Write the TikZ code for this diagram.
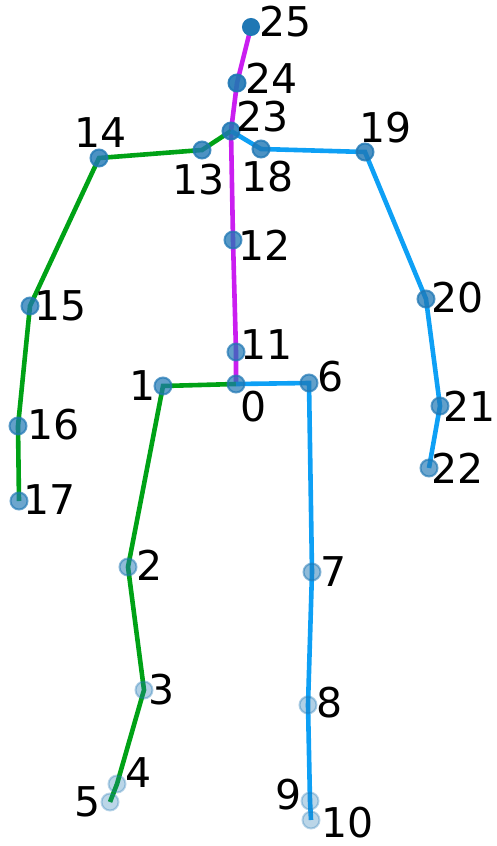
\documentclass[tikz,border=0pt]{standalone}
\usepackage{fontspec}
\setmainfont{DejaVu Sans}
\usepackage{xcolor}
\usetikzlibrary{backgrounds}
\definecolor{jointblue}{RGB}{31,119,180}
\definecolor{limbgreen}{RGB}{0,162,22}
\definecolor{limbblue}{RGB}{14,160,245}
\definecolor{spinemag}{RGB}{202,30,240}

\begin{document}
\begin{tikzpicture}[
    x=0.5pt, y=-0.5pt,
    joint/.style={circle,draw=jointblue,fill=jointblue,line width=1pt,
      minimum size=8.5pt,inner sep=0pt},
    tag/.style={inner sep=0pt,font=\fontsize{20.5}{20.5}\selectfont},
    bone/.style={line width=2.3pt},
    greenbone/.style={bone,draw=limbgreen},
    bluebone/.style={bone,draw=limbblue},
    spine/.style={bone,draw=spinemag}
  ]
    \useasboundingbox (0,0) rectangle (497,846);

    % joints
    \node[joint,opacity=0.7] (j0) at (236,384) {};
    \node[joint,opacity=0.7] (j1) at (163,386) {};
    \node[joint,opacity=0.5] (j2) at (128,567) {};
    \node[joint,opacity=0.35] (j3) at (144,690) {};
    \node[joint,opacity=0.3] (j4) at (117,784) {};
    \node[joint,opacity=0.3] (j5) at (110,802) {};
    \node[joint,opacity=0.7] (j6) at (309,383) {};
    \node[joint,opacity=0.5] (j7) at (312,572) {};
    \node[joint,opacity=0.35] (j8) at (308,705) {};
    \node[joint,opacity=0.3] (j9) at (310,801) {};
    \node[joint,opacity=0.3] (j10) at (311,820) {};
    \node[joint,opacity=0.7] (j11) at (236,352) {};
    \node[joint,opacity=0.75] (j12) at (233,240) {};
    \node[joint,opacity=0.8] (j13) at (202,150) {};
    \node[joint,opacity=0.8] (j14) at (99,158) {};
    \node[joint,opacity=0.75] (j15) at (30,306) {};
    \node[joint,opacity=0.7] (j16) at (18,426) {};
    \node[joint,opacity=0.65] (j17) at (19,501) {};
    \node[joint,opacity=0.8] (j18) at (261,149) {};
    \node[joint,opacity=0.8] (j19) at (365,152) {};
    \node[joint,opacity=0.75] (j20) at (426,299) {};
    \node[joint,opacity=0.7] (j21) at (440,406) {};
    \node[joint,opacity=0.65] (j22) at (429,468) {};
    \node[joint,opacity=0.85] (j23) at (231,131) {};
    \node[joint,opacity=0.9] (j24) at (237,83) {};
    \node[joint,minimum size=8pt] (j25) at (251,27) {};

    % bones, behind the joints
    \begin{scope}[on background layer]
      \draw[spine] (j0.center) -- (j11.center) -- (j12.center) -- (j23.center)
        -- (j24.center) -- (j25.center);
      \draw[greenbone] (j0.center) -- (j1.center) -- (j2.center) -- (j3.center)
        -- (j4.center) -- (j5.center);
      \draw[greenbone] (j23.center) -- (j13.center) -- (j14.center) -- (j15.center)
        -- (j16.center) -- (j17.center);
      \draw[bluebone] (j0.center) -- (j6.center) -- (j7.center) -- (j8.center)
        -- (j9.center) -- (j10.center);
      \draw[bluebone] (j23.center) -- (j18.center) -- (j19.center) -- (j20.center)
        -- (j21.center) -- (j22.center);
    \end{scope}

    % labels
    \node[tag] (l0) at (254,407) {0};
    \node[tag] (l1) at (143,386) {1};
    \node[tag] (l2) at (150,565) {2};
    \node[tag] (l3) at (162,690) {3};
    \node[tag] (l4) at (139,773) {4};
    \node[tag] (l5) at (88,802) {5};
    \node[tag] (l6) at (331,377) {6};
    \node[tag] (l7) at (334,572) {7};
    \node[tag] (l8) at (330,703) {8};
    \node[tag] (l9) at (289,795) {9};
    \node[tag] (l10) at (348,823) {10};
    \node[tag] (l11) at (267,345) {11};
    \node[tag] (l12) at (265,245) {12};
    \node[tag] (l13) at (199,180) {13};
    \node[tag] (l14) at (101,133) {14};
    \node[tag] (l15) at (61,306) {15};
    \node[tag] (l16) at (54,425) {16};
    \node[tag] (l17) at (50,500) {17};
    \node[tag] (l18) at (268,177) {18};
    \node[tag] (l19) at (386,128) {19};
    \node[tag] (l20) at (458,298) {20};
    \node[tag] (l21) at (470,406) {21};
    \node[tag] (l22) at (458,468) {22};
    \node[tag] (l23) at (263,117) {23};
    \node[tag] (l24) at (272,78) {24};
    \node[tag] (l25) at (286,22) {25};
  \end{tikzpicture}
\end{document}
